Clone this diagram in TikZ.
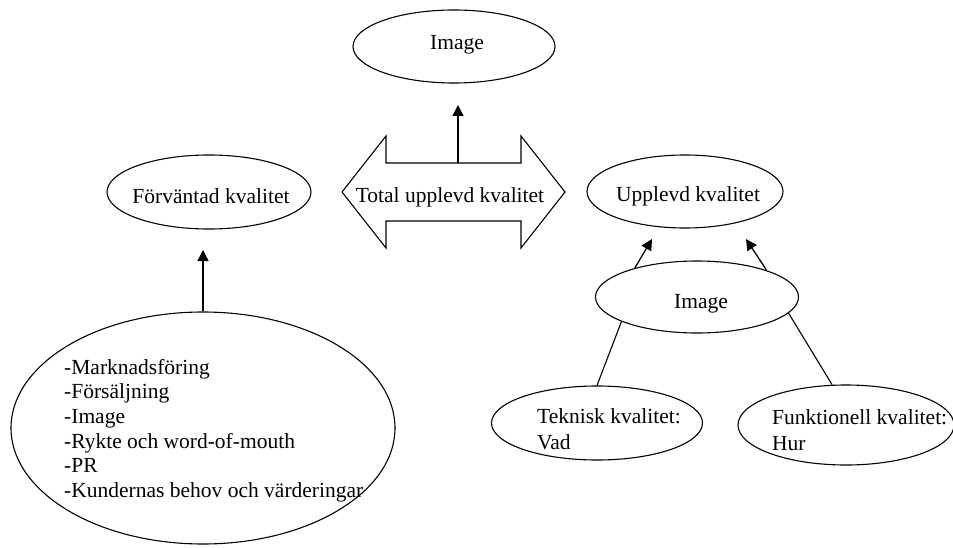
\documentclass[tikz,border=0pt]{standalone}
\usepackage{fontspec}
\setmainfont{Liberation Serif}
\usetikzlibrary{arrows.meta,shapes.geometric}
\begin{document}
\begin{tikzpicture}[x=1pt,y=-1pt,
  oval/.style={draw, ellipse, inner sep=0pt, line width=1.1pt},
  lbl/.style={font=\fontsize{21.5}{24.7}\selectfont, inner sep=0pt},
  arr/.style={-{Triangle[width=11pt,length=11pt]}, line width=1.3pt},
  conn/.style={line width=1.1pt}]
\useasboundingbox (0,0) rectangle (953,548);

% top Image
\node[oval, minimum width=202pt, minimum height=73pt] (img1) at (454,46.5) {};
\node[lbl, anchor=base] (img1t) at (457,49.5) {Image};

% double arrow
\draw[conn] (342,192) -- (386,136) -- (386,163) -- (521,163) -- (521,136)
  -- (565,192) -- (521,248) -- (521,221) -- (386,221) -- (386,248) -- cycle;
\node[lbl, anchor=base] (total) at (450,203) {Total upplevd kvalitet};
\coordinate (dtop) at (458,163);
\coordinate (imgtip) at (458,105);
\draw[arr] (dtop) -- (imgtip);

% Forvantad kvalitet
\node[oval, minimum width=204pt, minimum height=74pt] (forv) at (209,192) {};
\node[lbl, anchor=base] (forvt) at (211,204) {Förväntad kvalitet};

% big ellipse
\node[oval, minimum width=384pt, minimum height=232pt] (big) at (203,428) {};
\node[lbl, anchor=base west] (bigt) at (64,374) {\vtop{\baselineskip=24.7pt
  \hbox{-Marknadsföring}\hbox{-Försäljning}\hbox{-Image}
  \hbox{-Rykte och word-of-mouth}\hbox{-PR}\hbox{-Kundernas behov och värderingar}}};
\coordinate (forvtip) at (203,250);
\draw[arr] (big.north) -- (forvtip);

% Upplevd kvalitet
\node[oval, minimum width=196pt, minimum height=73pt] (upp) at (685,191.5) {};
\node[lbl, anchor=base] (uppt) at (688,202) {Upplevd kvalitet};

% Image 2
\node[oval, minimum width=203pt, minimum height=72pt] (img2) at (697,297) {};
\node[lbl, anchor=base] (img2t) at (701,308) {Image};
\coordinate (u1) at (652,239);
\coordinate (u2) at (746,239);
\draw[arr] (img2.155) -- (u1);
\draw[arr] (img2.21) -- (u2);

% Teknisk
\node[oval, minimum width=211pt, minimum height=74pt] (tek) at (597,423) {};
\node[lbl, anchor=base west] (tekt) at (537,423) {\vtop{\baselineskip=26pt
  \hbox{Teknisk kvalitet:}\hbox{Vad}}};

% Funktionell
\node[oval, minimum width=216pt, minimum height=80pt] (funk) at (846,425) {};
\node[lbl, anchor=base west] (funkt) at (772,424) {\vtop{\baselineskip=26pt
  \hbox{Funktionell kvalitet:}\hbox{Hur}}};

\draw[conn] (img2.198) -- (tek.north);
\draw[conn] (img2.350) -- (funk.109);
\end{tikzpicture}
\end{document}
